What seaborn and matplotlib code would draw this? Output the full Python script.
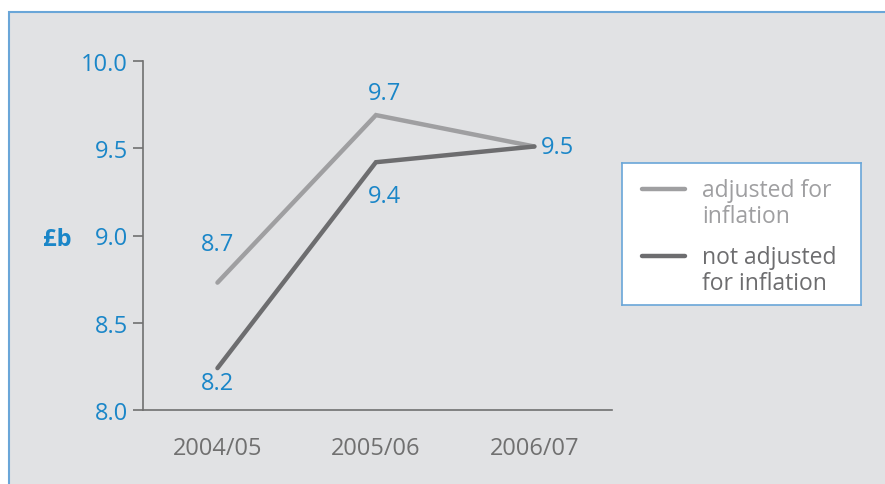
import matplotlib
matplotlib.use("Agg")
import matplotlib.pyplot as plt
from matplotlib.patches import Rectangle
import seaborn as sns
import pandas as pd

years = ["2004/05", "2005/06", "2006/07"]
adjusted = [8.73, 9.69, 9.51]
not_adjusted = [8.24, 9.42, 9.51]
series_names = ["adjusted for\ninflation", "not adjusted\nfor inflation"]
y_ticks = [8.0, 8.5, 9.0, 9.5, 10.0]

BLUE = "#1a86c8"
BORDER = "#6aa6d8"
PANEL = "#e1e2e4"
LIGHT = "#9f9fa1"
DARK = "#6d6d6f"
AXIS = "#707070"

sns.set_style("white")
plt.rcParams["font.family"] = ["Open Sans", "DejaVu Sans"]

df = pd.DataFrame({
    "year": years * 2,
    "value": adjusted + not_adjusted,
    "series": [series_names[0]] * 3 + [series_names[1]] * 3,
})
df["x"] = df["year"].map({y: i for i, y in enumerate(years)})

W, H = 885, 485
fig = plt.figure(figsize=(W / 100, H / 100), dpi=100)
fig.patch.set_facecolor("white")

# grey panel behind everything
bg = fig.add_axes([0, 0, 1, 1], zorder=-5)
bg.set_xlim(0, W)
bg.set_ylim(H, 0)
bg.axis("off")
bg.add_patch(Rectangle((9, 13), W, H, facecolor=PANEL, edgecolor=BORDER,
                       linewidth=1.5))

ax = fig.add_axes([143 / W, (H - 411) / H, (612 - 143) / W, (411 - 62) / H])
ax.set_facecolor("none")

sns.lineplot(data=df, x="x", y="value", hue="series",
             palette=[LIGHT, DARK], linewidth=3.2, ax=ax, legend=False,
             sort=False)
for ln in ax.get_lines():
    ln.set_solid_capstyle("round")
    ln.set_solid_joinstyle("miter")

ax.set_xlim(-0.47, 2.49)
ax.set_ylim(8.0, 10.0)
ax.set_xticks(range(len(years)))
ax.set_xticklabels(years)
ax.set_yticks(y_ticks)
ax.set_yticklabels([f"{v:.1f}" for v in y_ticks])
ax.set_xlabel("")
ax.set_ylabel("")

for s in ["top", "right"]:
    ax.spines[s].set_visible(False)
for s in ["left", "bottom"]:
    ax.spines[s].set_color(AXIS)
    ax.spines[s].set_linewidth(1.2)

ax.tick_params(axis="y", which="both", left=True, length=7, width=1.2,
               color=AXIS, labelcolor=BLUE, labelsize=17, pad=4, direction="out")
ax.tick_params(axis="x", which="both", bottom=False, labelcolor=AXIS,
               labelsize=17, pad=15)

# value labels
ann = dict(color=BLUE, fontsize=17, ha="center", va="center",
           textcoords="offset points")
ax.annotate(f"{adjusted[0]:.1f}", (0, adjusted[0]), xytext=(0, 28), **ann)
ax.annotate(f"{not_adjusted[0]:.1f}", (0, not_adjusted[0]), xytext=(0, -11), **ann)
ax.annotate(f"{adjusted[1]:.1f}", (1, adjusted[1]), xytext=(6, 16), **ann)
ax.annotate(f"{not_adjusted[1]:.1f}", (1, not_adjusted[1]), xytext=(6, -24), **ann)
ax.annotate(f"{adjusted[2]:.1f}", (2, adjusted[2]), xytext=(17, 0), **ann)

# unit label
fig.text(57 / W, 1 - 240 / H, "£b", color=BLUE, fontsize=17,
         fontweight="bold", ha="center", va="center")

# legend
lax = fig.add_axes([622 / W, (H - 306) / H, (861 - 622) / W, (306 - 164) / H])
lax.set_xlim(0, 239)
lax.set_ylim(142, 0)
lax.set_xticks([])
lax.set_yticks([])
lax.set_facecolor("white")
for s in lax.spines.values():
    s.set_color(BORDER)
    s.set_linewidth(1.2)
for i, (name, col) in enumerate(zip(series_names, [LIGHT, DARK])):
    yy = 26 + i * 67
    lax.plot([20, 63], [yy, yy], color=col, linewidth=3.2,
             solid_capstyle="round")
    lax.text(80, yy + 14, name, color=col, fontsize=16.5, ha="left",
             va="center", linespacing=1.1)

fig.savefig("out.png", dpi=100, facecolor="white")
